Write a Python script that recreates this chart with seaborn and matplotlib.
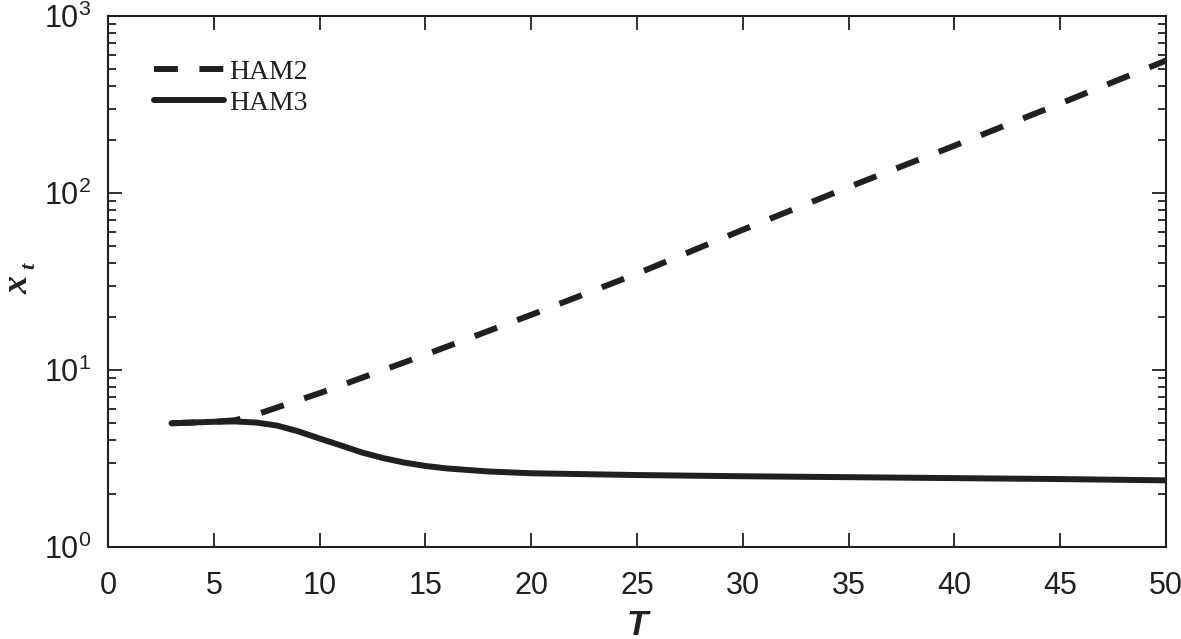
import numpy as np
import pandas as pd
import matplotlib
matplotlib.use("Agg")
import matplotlib.pyplot as plt
import seaborn as sns
from matplotlib.ticker import LogLocator, FixedLocator

# Data
T_ham2 = [3, 4, 5, 6, 7, 10, 15, 20, 25, 30, 35, 40, 45, 50]
x_ham2 = [5.0, 5.05, 5.1, 5.2, 5.6, 7.4, 12.2, 20.5, 35.0, 62.0, 108.0, 185.0, 320.0, 560.0]
T_ham3 = [3, 4, 5, 6, 7, 8, 9, 10, 11, 12, 13, 14, 15, 16, 18, 20, 25, 30, 35, 40, 45, 50]
x_ham3 = [5.0, 5.05, 5.1, 5.12, 5.05, 4.85, 4.5, 4.1, 3.75, 3.42, 3.18, 3.0, 2.87, 2.78, 2.67, 2.61, 2.55, 2.51, 2.48, 2.45, 2.42, 2.38]
x_ticks = [0, 5, 10, 15, 20, 25, 30, 35, 40, 45, 50]

df = pd.concat([
    pd.DataFrame({"T": T_ham2, "x": x_ham2, "series": "HAM2"}),
    pd.DataFrame({"T": T_ham3, "x": x_ham3, "series": "HAM3"}),
])

sns.set_style("ticks")
plt.rcParams["font.family"] = ["Liberation Sans", "DejaVu Sans"]
plt.rcParams["mathtext.fontset"] = "custom"
plt.rcParams["mathtext.rm"] = "Liberation Sans"
plt.rcParams["mathtext.it"] = "Liberation Sans:italic"
plt.rcParams["mathtext.bf"] = "Liberation Sans:bold"

fig = plt.figure(figsize=(11.81, 6.39), dpi=100)
ax = fig.add_axes([108/1181, 1 - 547/639, (1166-108)/1181, (547-16)/639])

color = "#231f20"
sns.lineplot(data=df, x="T", y="x", hue="series", style="series",
             palette={"HAM2": color, "HAM3": color},
             dashes={"HAM2": (4.0, 3.6), "HAM3": ""},
             linewidth=4.3, ax=ax, legend=True)

ax.set_yscale("log")
ax.set_xlim(0, 50)
ax.set_ylim(1, 1000)
ax.xaxis.set_major_locator(FixedLocator(x_ticks))
ax.yaxis.set_major_locator(LogLocator(base=10, numticks=10))
ax.yaxis.set_minor_locator(LogLocator(base=10, subs=np.arange(2, 10), numticks=10))

ax.tick_params(axis="both", which="both", direction="in", top=True, right=True,
               colors=color, labelcolor=color, width=1.3)
ax.tick_params(axis="both", which="major", length=10, labelsize=22)
ax.tick_params(axis="y", which="minor", length=6)
ax.tick_params(axis="x", which="major", pad=17)
ax.tick_params(axis="y", which="major", pad=12)
for s in ax.spines.values():
    s.set_linewidth(1.5)
    s.set_color(color)

ax.set_xlabel("T", fontsize=25, fontweight="bold", fontstyle="italic", color=color, labelpad=6)
ax.set_ylabel("x", fontsize=1, color="none")
fig.text(2/1181, 1 - 285/639, "x", fontsize=26, fontweight="bold", fontstyle="italic",
         family=["Liberation Serif", "DejaVu Serif"], color=color, rotation=90,
         ha="left", va="center")
fig.text(19/1181, 1 - 266/639, "t", fontsize=16, fontweight="bold", fontstyle="italic",
         family=["Liberation Serif", "DejaVu Serif"], color=color, rotation=90,
         ha="left", va="center")

leg = ax.legend(loc="upper left", bbox_to_anchor=(0.02, 0.965), frameon=False,
                handlelength=2.5, handletextpad=0.2, labelspacing=0.2,
                prop={"family": "Liberation Serif", "size": 20})
for t in leg.get_texts():
    t.set_color(color)

fig.savefig("out.png", dpi=100)
